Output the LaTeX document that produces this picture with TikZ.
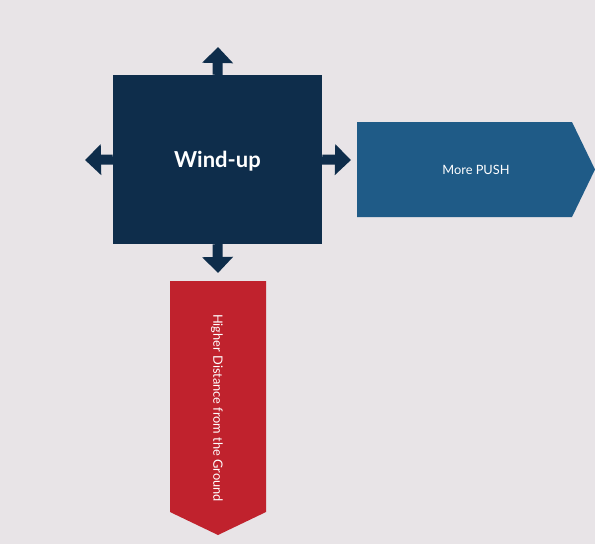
\documentclass[tikz,border=0pt]{standalone}
\usepackage{fontspec}
\setmainfont{Lato}
\usetikzlibrary{arrows.meta}

\definecolor{bgcol}{HTML}{E8E4E7}
\definecolor{navy}{HTML}{0E2D4B}
\definecolor{pushblue}{HTML}{1F5B87}
\definecolor{groundred}{HTML}{C0222D}

\tikzset{
    spoke/.style={navy, line width=10pt, -{Triangle[width=30pt, length=16pt]}},
    flagtext/.style={inner sep=0pt, text=white, font=\fontsize{12.8}{15}\selectfont}
}

\begin{document}
\begin{tikzpicture}[x=1pt, y=-1pt]
    % Background and page size
    \useasboundingbox (0,0) rectangle (595,544);
    \fill[bgcol] (0,0) rectangle (595,544);

    % The central square
    \node[fill=navy, minimum width=209pt, minimum height=169pt, inner sep=0pt] (windup) at (217.5,159.5) {};
    \node[text=white, font=\fontsize{22}{26}\selectfont\bfseries] (windlabel) at (217.5,161.5) {Wind-up};

    % Arrows pointing out of the square
    \coordinate (upTip) at (218,47);
    \coordinate (downTip) at (218,273);
    \coordinate (leftTip) at (85,160);
    \coordinate (rightTip) at (351,160);
    \foreach \side/\tip in {north/upTip, south/downTip, west/leftTip, east/rightTip}
        {
            \draw[spoke] (windup.\side) -- (\tip);
        }

    % The two results
    \fill[pushblue] (357,122) -- (572,122) -- (595,169.5) -- (572,217) -- (357,217) -- cycle;
    \node[flagtext] (push) at (476,169.5) {More PUSH};

    \fill[groundred] (170,281) -- (266,281) -- (266,512) -- (218,535) -- (170,512) -- cycle;
    \node[flagtext, rotate=-90] (height) at (217,408) {Higher Distance from the Ground};

\end{tikzpicture}
\end{document}
